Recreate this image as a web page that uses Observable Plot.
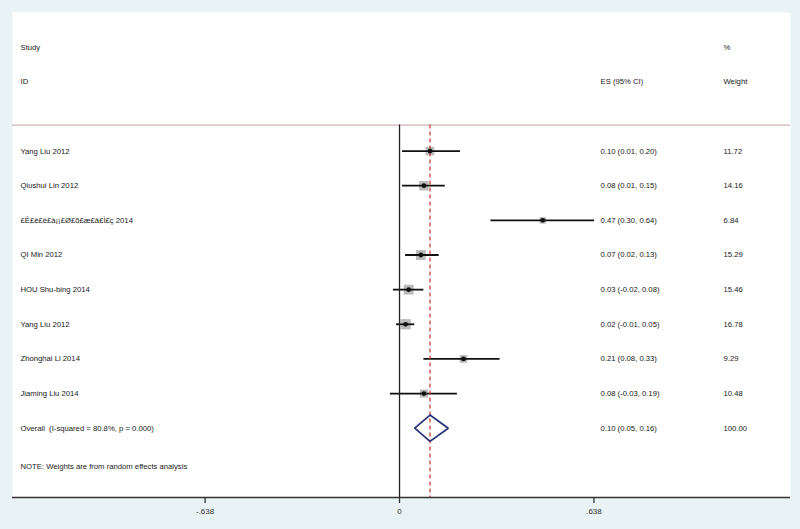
<!DOCTYPE html>
<html><head><meta charset="utf-8">
<script src="https://cdn.jsdelivr.net/npm/d3@7"></script>
<script src="https://cdn.jsdelivr.net/npm/@observablehq/plot@0.6"></script>
<style>
body{margin:0;background:#e9f2f4;}
#chart svg{display:block;}
</style>
</head><body><div id="chart"></div>
<script>
// ---- data ----
const studies = ["Yang Liu 2012", "Qiushui Lin 2012", "£Ê£ê£è£à¡¡£Ø£õ£æ£â£Ì£ç 2014", "QI Min 2012",
  "HOU Shu-bing 2014", "Yang Liu 2012", "Zhonghai Li 2014", "Jiaming Liu 2014"];
const esValues = [0.10, 0.08, 0.47, 0.07, 0.03, 0.02, 0.21, 0.08];
const ciLower  = [0.01, 0.01, 0.30, 0.02, -0.02, -0.01, 0.08, -0.03];
const ciUpper  = [0.20, 0.15, 0.64, 0.13, 0.08, 0.05, 0.33, 0.19];
const weights  = [11.72, 14.16, 6.84, 15.29, 15.46, 16.78, 9.29, 10.48];
const overallLabel = "Overall\u00a0\u00a0(I-squared = 80.8%, p = 0.000)";
const overallES = 0.10, overallLo = 0.05, overallHi = 0.16, overallWeight = 100.00;
const noteText = "NOTE: Weights are from random effects analysis";
const tickValues = [-0.638, 0, 0.638];
const tickLabels = ["-.638", "0", ".638"];

// ---- layout helpers ----
const f2 = d3.formatLocale({decimal: ".", thousands: ",", grouping: [3], currency: ["", ""], minus: "-"}).format(".2f");
const rows = studies.map((s, i) => ({i, label: s, es: esValues[i], lo: ciLower[i], hi: ciUpper[i], w: weights[i]}));
const overallRow = {i: studies.length, label: overallLabel, es: overallES, lo: overallLo, hi: overallHi, w: overallWeight};
const textRows = [...rows, overallRow].map(r => ({...r, esText: `${f2(r.es)} (${f2(r.lo)}, ${f2(r.hi)})`, wText: f2(r.w)}));
const sepY = -0.75;
const axisY = 10;
const dh = 0.38;
const diamond = [
  {x: overallLo, y: overallRow.i}, {x: overallES, y: overallRow.i - dh},
  {x: overallHi, y: overallRow.i}, {x: overallES, y: overallRow.i + dh},
  {x: overallLo, y: overallRow.i}
];
const font = 7.7;
const txt = "#1a1a1a";

const plot = Plot.plot({
  width: 800, height: 529,
  marginLeft: 12, marginRight: 10, marginTop: 12, marginBottom: 32,
  style: {background: "#e9f2f4", fontFamily: "'Liberation Sans', Arial, sans-serif"},
  x: {domain: [-1.27, 1.283]},
  y: {domain: [-4, 10], reverse: true, axis: null},
  r: {type: "sqrt", domain: [0, d3.max(weights)], range: [0, 5.8]},
  marks: [
    Plot.frame({fill: "white", stroke: "none"}),
    Plot.ruleY([sepY], {stroke: "#bfa5a5", strokeWidth: 1}),
    Plot.dot(rows, {x: "es", y: "i", r: "w", symbol: "square", fill: "#bababa"}),
    Plot.ruleY(rows, {y: "i", x1: "lo", x2: "hi", stroke: "#111", strokeWidth: 1.8}),
    Plot.ruleX([0], {y1: sepY, y2: axisY, stroke: "#222", strokeWidth: 1.3}),
    Plot.ruleX([overallES], {y1: sepY, y2: axisY, stroke: "#c0392b", strokeWidth: 1.2, strokeDasharray: "4,3"}),
    Plot.dot(rows, {x: "es", y: "i", r: 2.4, fill: "#111", stroke: "none"}),
    Plot.line(diamond, {x: "x", y: "y", stroke: "#28307a", strokeWidth: 1.7, strokeLinejoin: "miter"}),
    // left column
    Plot.text(["Study", "ID"], {y: (d, i) => i - 3, text: d => d, frameAnchor: "left", dx: 8, textAnchor: "start", fontSize: font, fill: txt}),
    Plot.text(textRows, {y: "i", text: "label", frameAnchor: "left", dx: 8, textAnchor: "start", fontSize: font, fill: txt}),
    Plot.text([noteText], {y: [9.12], text: d => d, frameAnchor: "left", dx: 8, textAnchor: "start", fontSize: font, fill: txt}),
    // ES column
    Plot.text(["ES (95% CI)"], {y: [-2], text: d => d, frameAnchor: "right", dx: -190, textAnchor: "start", fontSize: font, fill: txt}),
    Plot.text(textRows, {y: "i", text: "esText", frameAnchor: "right", dx: -190, textAnchor: "start", fontSize: font, fill: txt}),
    // Weight column
    Plot.text(["%", "Weight"], {y: (d, i) => i - 3, text: d => d, frameAnchor: "right", dx: -67, textAnchor: "start", fontSize: font, fill: txt}),
    Plot.text(textRows, {y: "i", text: "wText", frameAnchor: "right", dx: -67, textAnchor: "start", fontSize: font, fill: txt}),
    // axis
    Plot.ruleY([axisY], {stroke: "#333", strokeWidth: 1.5}),
    Plot.axisX({ticks: tickValues, tickFormat: d => tickLabels[tickValues.indexOf(d)], tickSize: 6, tickPadding: 5, strokeWidth: 1.3, fontSize: 8, label: null, anchor: "bottom", color: "#333"})
  ]
});
document.getElementById("chart").appendChild(plot);
</script>
</body></html>
